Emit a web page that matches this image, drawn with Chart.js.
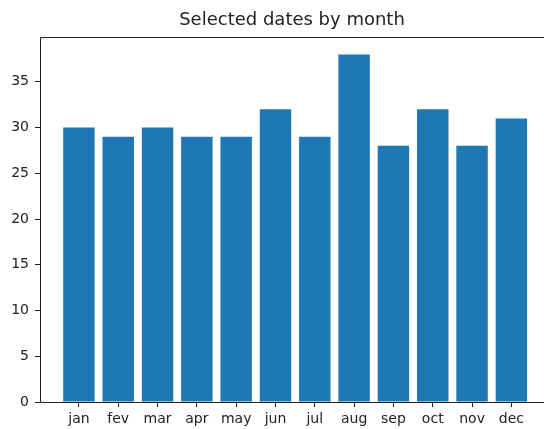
<!DOCTYPE html>
<html>
<head>
<meta charset="utf-8">
<script src="https://cdn.jsdelivr.net/npm/chart.js@4"></script>
<style>
    html, body { margin: 0; padding: 0; background: #fff; overflow: hidden; }
    #wrap { width: 544px; height: 429px; }
</style>
</head>
<body>
<div id="wrap"><canvas id="chart"></canvas></div>
<script>
const months = ['jan', 'fev', 'mar', 'apr', 'may', 'jun', 'jul', 'aug', 'sep', 'oct', 'nov', 'dec'];
const counts = [30, 29, 30, 29, 29, 32, 29, 38, 28, 32, 28, 31];
const yTicks = [0, 5, 10, 15, 20, 25, 30, 35];

// axes frame: the right spine sits just past the picture edge
const frame = {
    id: 'frame',
    afterDraw(chart) {
        const { ctx, chartArea: a } = chart;
        const l = Math.round(a.left) + 0.5, t = Math.round(a.top) + 0.5, b = Math.round(a.bottom) + 0.5;
        ctx.save();
        ctx.strokeStyle = '#222';
        ctx.lineWidth = 1;
        ctx.beginPath();
        ctx.moveTo(a.right, t);
        ctx.lineTo(l, t);
        ctx.lineTo(l, b);
        ctx.lineTo(a.right, b);
        ctx.stroke();
        ctx.restore();
    }
};

const chart = document.querySelector('#chart').getContext('2d');

new Chart(chart, {
    type: 'bar',
    data: {
        datasets: [{
            label: 'dates',
            data: counts.map((v, i) => ({ x: i, y: v })),
            backgroundColor: '#1f77b4',
            borderWidth: 0,
            barPercentage: 0.8,
            categoryPercentage: 1
        }]
    },
    options: {
        responsive: true,
        maintainAspectRatio: false,
        animation: false,
        layout: { padding: 0 },
        plugins: {
            legend: { display: false },
            tooltip: { enabled: false },
            title: {
                display: true,
                fullSize: false,
                text: 'Selected dates by month',
                color: '#222',
                font: { family: 'DejaVu Sans', size: 18, weight: 'normal', lineHeight: 1.2 },
                padding: { top: 9.5, bottom: 5.9 }
            }
        },
        scales: {
            x: {
                type: 'linear',
                min: -0.99,
                max: 11.83,
                offset: false,
                afterFit: (s) => { s.height = 27; },
                border: { display: false },
                grid: { offset: false, drawOnChartArea: false, drawTicks: true, tickLength: 5, color: '#222' },
                afterBuildTicks: (s) => { s.ticks = months.map((m, i) => ({ value: i })); },
                ticks: {
                    autoSkip: false,
                    maxRotation: 0,
                    padding: 4,
                    color: '#222',
                    font: { family: 'DejaVu Sans', size: 14 },
                    callback: (v) => months[v]
                }
            },
            y: {
                min: 0,
                max: 39.9,
                afterFit: (s) => { s.width = 40; },
                border: { display: false },
                grid: { drawOnChartArea: false, drawTicks: true, tickLength: 5, color: '#222' },
                afterBuildTicks: (s) => { s.ticks = yTicks.map(v => ({ value: v })); },
                ticks: {
                    padding: 6,
                    color: '#222',
                    font: { family: 'DejaVu Sans', size: 14 }
                }
            }
        }
    },
    plugins: [frame]
});
</script>
</body>
</html>
